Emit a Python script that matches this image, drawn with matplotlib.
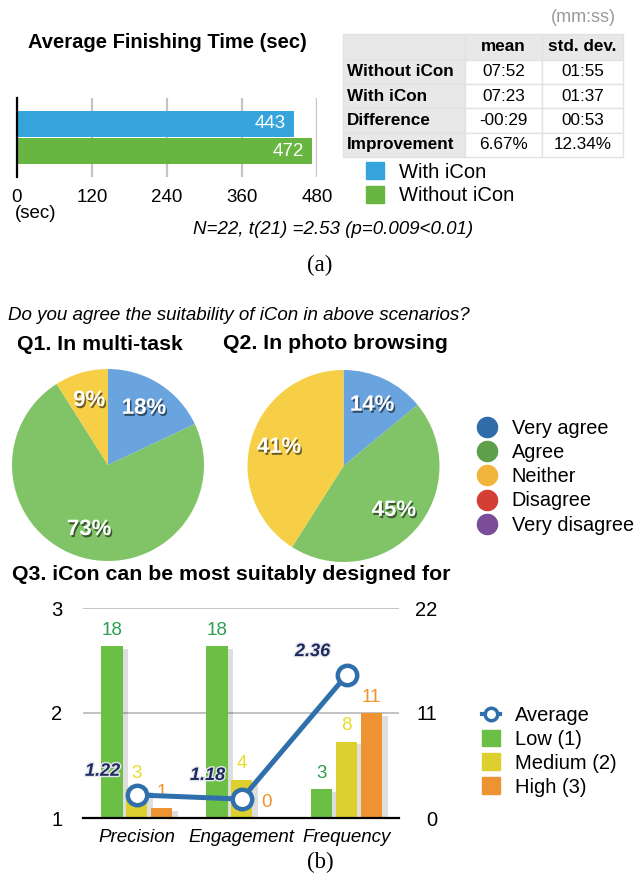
import numpy as np
import matplotlib
matplotlib.use("Agg")
import matplotlib.pyplot as plt
import matplotlib.patheffects as pe
from matplotlib.patches import Patch
from matplotlib.lines import Line2D
from matplotlib.table import Table

plt.rcParams['font.family'] = ['Liberation Sans', 'DejaVu Sans']

# ---- data: (a) finishing time ----
conditions = ['With iCon', 'Without iCon']
finish_times = [443, 472]
time_ticks = [0, 120, 240, 360, 480]

table_header = ['', 'mean', 'std. dev.']
table_rows = ['Without iCon', 'With iCon', 'Difference', 'Improvement']
table_mean = ['07:52', '07:23', '-00:29', '6.67%']
table_std = ['01:55', '01:37', '00:53', '12.34%']

# ---- data: (b) questionnaire ----
answers = ['Very agree', 'Agree', 'Neither', 'Disagree', 'Very disagree']
q1_pct = [18, 73, 9, 0, 0]
q2_pct = [14, 45, 41, 0, 0]

q3_categories = ['Precision', 'Engagement', 'Frequency']
q3_low = [18, 18, 3]
q3_medium = [3, 4, 8]
q3_high = [1, 0, 11]
q3_average = [1.22, 1.18, 2.36]

W, H = 639, 873


def px_box(x0, y0, x1, y1):
    # pixel box (from top-left) -> figure fraction rect
    return [x0 / W, 1 - y1 / H, (x1 - x0) / W, (y1 - y0) / H]


def px_pt(x, y):
    return (x / W, 1 - y / H)


fig = plt.figure(figsize=(W / 100, H / 100), dpi=100)

blue_a = '#36a4dc'
green_a = '#69b541'

# ---------------- (a) bar chart ----------------
fig.text(*px_pt(28, 43), 'Average Finishing Time (sec)', fontsize=14.5,
         fontweight='bold', va='center', ha='left')

ax_a = fig.add_axes(px_box(17, 98, 317, 177))
ypos = np.arange(len(conditions))
ax_a.barh(ypos, finish_times, height=0.96, color=[blue_a, green_a], zorder=3)
for y, v in zip(ypos, finish_times):
    ax_a.annotate(str(v), (v, y), xytext=(-6, 0), textcoords='offset points',
                  ha='right', va='center', color='white', fontsize=13.5, zorder=4)
ax_a.set_xlim(0, 480)
ax_a.set_ylim(1.96, -0.96)
ax_a.set_xticks(time_ticks)
ax_a.set_yticks([])
ax_a.grid(axis='x', color='#c4c4c4', lw=1.6, zorder=0)
for s in ['top', 'right', 'bottom']:
    ax_a.spines[s].set_visible(False)
ax_a.spines['left'].set_linewidth(1.6)
ax_a.spines['left'].set_zorder(5)
ax_a.tick_params(axis='x', length=0, pad=9, labelsize=13.5)
fig.text(*px_pt(15, 213), '(sec)', fontsize=13.5, va='center', ha='left')

# table
fig.text(*px_pt(616, 18), '(mm:ss)', fontsize=13, color='#9a9a9a', va='center', ha='right')
ax_t = fig.add_axes(px_box(343, 34, 623, 157))
ax_t.axis('off')
tab = Table(ax_t, bbox=[0, 0, 1, 1])
col_w = [122, 77, 81]
grid_rows = [table_header] + [[r, m, s] for r, m, s in zip(table_rows, table_mean, table_std)]
for i, row in enumerate(grid_rows):
    h = 26 if i == 0 else 24.5
    for j, txt in enumerate(row):
        gray = (i == 0 or j == 0)
        c = tab.add_cell(i, j, col_w[j], h, text=txt, loc='left' if j == 0 else 'center',
                         facecolor='#e8e8e8' if gray else 'white', edgecolor='#e2e2e2')
        c.PAD = 0.03
        c.set_linewidth(1.0)
        c.get_text().set_fontsize(12.3)
        if i == 0 or j == 0:
            c.get_text().set_fontweight('bold')
tab.auto_set_font_size(False)
ax_t.add_table(tab)

fig.legend(handles=[Patch(color=blue_a, label=conditions[0]),
                    Patch(color=green_a, label=conditions[1])],
           loc='upper left', bbox_to_anchor=px_pt(366, 162.5), frameon=False,
           fontsize=14.5, handlelength=0.9, handleheight=0.9, handletextpad=0.75,
           labelspacing=0.2, borderpad=0, borderaxespad=0)

fig.text(*px_pt(333, 230), 'N=22, t(21) =2.53 (p=0.009<0.01)', fontsize=13.5,
         style='italic', va='center', ha='center')
fig.text(*px_pt(320, 265), '(a)', fontsize=16.5, family='Liberation Serif',
         va='center', ha='center')

# ---------------- (b) pies ----------------
fig.text(*px_pt(8, 316), 'Do you agree the suitability of iCon in above scenarios?',
         fontsize=13.5, style='italic', va='center', ha='left')
fig.text(*px_pt(17, 345), 'Q1. In multi-task', fontsize=15.3, fontweight='bold',
         va='center', ha='left')
fig.text(*px_pt(223, 344), 'Q2. In photo browsing', fontsize=15.3, fontweight='bold',
         va='center', ha='left')

pie_colors = ['#69a4de', '#80c467', '#f6cf46', '#d9473d', '#8a57a6']
legend_colors = ['#2f6ca9', '#5e9f4b', '#f1b53e', '#d33e35', '#7b4c98']

label_fx = [pe.SimplePatchShadow(offset=(1, -1.5), shadow_rgbFace='black', alpha=0.55),
            pe.Normal()]

for (cx, cy), vals in [((108, 465), q1_pct), ((343.5, 466), q2_pct)]:
    axp = fig.add_axes(px_box(cx - 96, cy - 96, cx + 96, cy + 96))
    wedges, _, autotexts = axp.pie(
        vals, colors=pie_colors, startangle=90, counterclock=False,
        autopct=lambda p: f'{p:.0f}%' if p > 0.5 else '', pctdistance=0.7,
        wedgeprops=dict(linewidth=0),
        textprops=dict(color='white', fontsize=16, fontweight='bold'))
    for t in autotexts:
        t.set_path_effects(label_fx)
    axp.set_xlim(-1, 1)
    axp.set_ylim(-1, 1)
    axp.set_aspect('equal')

fig.legend(handles=[Line2D([], [], marker='o', ls='', markersize=14.5, color=c, label=a)
                    for c, a in zip(legend_colors, answers)],
           loc='upper left', bbox_to_anchor=px_pt(477, 419), frameon=False,
           fontsize=14.3, handlelength=1.0, handletextpad=0.75,
           labelspacing=0.26, borderpad=0, borderaxespad=0)

# ---------------- (b) Q3 bars + average ----------------
fig.text(*px_pt(12, 575), 'Q3. iCon can be most suitably designed for', fontsize=15.3,
         fontweight='bold', va='center', ha='left')

c_low, c_med, c_high = '#6bbf45', '#dccf2e', '#ee9334'
t_low, t_med, t_high = '#2e9f4f', '#e8dc2a', '#f0922e'
line_blue = '#2f6fab'

ax_b = fig.add_axes(px_box(83, 608, 399, 818))
x = np.arange(len(q3_categories))
off, bw = 0.236, 0.205
bar_fx = [pe.SimplePatchShadow(offset=(4, -2), shadow_rgbFace='black', alpha=0.13),
          pe.Normal()]
for dx, vals, col, tcol in [(-off, q3_low, c_low, t_low),
                            (0, q3_medium, c_med, t_med),
                            (off, q3_high, c_high, t_high)]:
    bars = ax_b.bar(x + dx, vals, width=bw, color=col, zorder=3)
    for b in bars:
        b.set_path_effects(bar_fx)
    for xi, v in zip(x + dx, vals):
        ax_b.annotate(str(v), (xi, v), xytext=(0, 11.5), textcoords='offset points',
                      ha='center', va='center', color=tcol, fontsize=13.5, zorder=4)
ax_b.set_xlim(-0.51, 2.5)
ax_b.set_ylim(0, 22)
ax_b.set_yticks([0, 11, 22])
ax_b.grid(axis='y', color='#bdbdbd', lw=1.3, zorder=0)
ax_b.set_xticks(x)
ax_b.set_xticklabels(q3_categories, style='italic', fontsize=13.5)
for s in ['top', 'right', 'left']:
    ax_b.spines[s].set_visible(False)
ax_b.spines['bottom'].set_linewidth(1.6)
ax_b.spines['bottom'].set_zorder(5)
ax_b.tick_params(axis='x', length=0, pad=8)

ax_l = ax_b.twinx()
ax_l.set_ylim(1, 3)
ax_l.set_yticks([1, 2, 3])
ax_l.yaxis.tick_left()
ax_b.yaxis.tick_right()
ax_b.tick_params(axis='y', length=0, pad=27.4, labelsize=14.5)
for lab in ax_b.get_yticklabels():
    lab.set_ha('right')
for s in ax_l.spines.values():
    s.set_visible(False)
ax_l.tick_params(axis='y', length=0, pad=15, labelsize=14.5)
ax_l.plot(x, q3_average, color=line_blue, lw=3.6, marker='o', markersize=14,
          markerfacecolor='white', markeredgecolor=line_blue, markeredgewidth=3.2, zorder=5)
for xi, v in zip(x, q3_average):
    ax_l.annotate(f'{v:.2f}', (xi, v), xytext=(-24.5, 17), textcoords='offset points',
                  ha='center', va='center', color='#1d2b5e', fontsize=13,
                  fontweight='bold', style='italic', zorder=6,
                  path_effects=[pe.withStroke(linewidth=2, foreground='#e6e6ee')])

fig.legend(handles=[Line2D([], [], color=line_blue, lw=3, marker='o', markersize=9,
                           markerfacecolor='white', markeredgewidth=2.5, label='Average'),
                    Patch(color=c_low, label='Low (1)'),
                    Patch(color=c_med, label='Medium (2)'),
                    Patch(color=c_high, label='High (3)')],
           loc='upper left', bbox_to_anchor=px_pt(482, 706), frameon=False,
           fontsize=14.5, handlelength=0.9, handleheight=0.9, handletextpad=0.75,
           labelspacing=0.22, borderpad=0, borderaxespad=0)

fig.text(*px_pt(320, 862), '(b)', fontsize=16.5, family='Liberation Serif',
         va='center', ha='center')

fig.savefig('out.png', dpi=100)
